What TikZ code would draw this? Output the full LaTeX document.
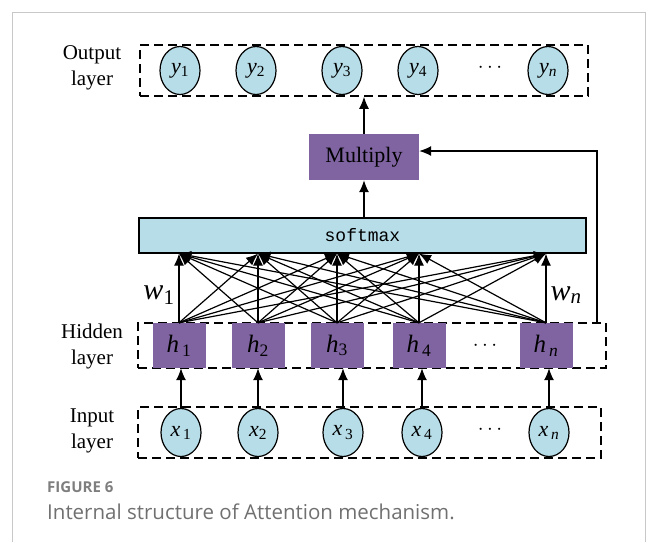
\documentclass[tikz,border=0pt]{standalone}
\usepackage{fontspec}
\setmainfont{Liberation Serif}
\setmonofont{Liberation Mono}
\newfontfamily\capfont{Open Sans}
\usetikzlibrary{arrows.meta,shapes.geometric}
\definecolor{cellblue}{HTML}{B7DDE8}
\definecolor{cellpurple}{HTML}{8064A2}
\definecolor{framegray}{HTML}{C8C8C8}
\definecolor{capgray}{HTML}{707070}
\newcommand{\unitvar}[2]{\textit{#1}\textsubscript{#2}}
\tikzset{
  unit/.style={ellipse, draw, line width=1.2pt, fill=cellblue, minimum width=40pt,
    minimum height=48pt, inner sep=0pt, font=\fontsize{22}{22}\selectfont},
  hid/.style={rectangle, fill=cellpurple, minimum width=53pt, minimum height=45pt,
    inner sep=0pt, font=\fontsize{25}{25}\selectfont},
  layerbox/.style={rectangle, draw, line width=1.6pt, dash pattern=on 9pt off 5pt, inner sep=0pt},
  lbl/.style={align=center, font=\fontsize{21}{26}\selectfont},
  conn/.style={line width=1.2pt}
}
\begin{document}
\begin{tikzpicture}[x=1pt, y=-1pt, >={Latex[length=12pt,width=10pt]}]
\useasboundingbox (0,0) rectangle (656,542);
% frame round the figure
\draw[framegray, line width=1pt] (12,542) -- (12,12) -- (645,12) -- (645,542);

% the three layers
\node[layerbox, minimum width=448pt, minimum height=51pt] (outbox) at (364,70.5) {};
\node[layerbox, minimum width=468pt, minimum height=45pt] (hidbox) at (372,345.5) {};
\node[layerbox, minimum width=463pt, minimum height=51pt] (inbox) at (369.5,432.5) {};
\node[lbl] (outlbl) at (92,68) {Output\\layer};
\node[lbl] (hidlbl) at (92,346) {Hidden\\layer};
\node[lbl] (inlbl) at (92,431) {Input\\layer};

\foreach \n/\x/\s in {1/180/1, 2/256/2, 3/342/3, 4/418/4, 5/548/\textit{n}}
  \node[unit] (y\n) at (\x,70.5) {\unitvar{y}{\s}};
\foreach \n/\x/\s in {1/179/\,1, 2/258/2, 3/337/3, 4/419/\,4, 5/546/\,\textit{n}}
  \node[hid] (h\n) at (\x,345.5) {\unitvar{h}{\s}};
\foreach \n/\x/\s in {1/181/\,1, 2/258/2, 3/343/\,3, 4/422/\,4, 5/549/\,\textit{n}}
  \node[unit] (x\n) at (\x,432.5) {\unitvar{x}{\s}};
\node[font=\fontsize{20}{20}\selectfont] (ydots) at (490,68) {$\cdots$};
\node[font=\fontsize{20}{20}\selectfont] (hdots) at (485,346) {$\cdots$};
\node[font=\fontsize{20}{20}\selectfont] (xdots) at (490,430) {$\cdots$};

\node[rectangle, draw, line width=1.2pt, fill=cellblue, minimum width=447pt, minimum height=35pt,
  font=\ttfamily\fontsize{18}{18}\selectfont] (softmax) at (362.5,235.5) {softmax};
\node[hid, minimum width=110pt, minimum height=46pt, font=\fontsize{22}{22}\selectfont] (mult) at (364,157) {Multiply};

% input -> hidden
\foreach \n in {1,...,5}
  \draw[conn,->] (x\n.north) -- (x\n.north |- h\n.south);
% every hidden unit feeds every weight
\foreach \i in {1,...,5}
  \foreach \j in {1,...,5}
    \draw[conn,->] (h\i.north) -- (softmax.south -| h\j.north);
\node[font=\fontsize{30}{30}\selectfont] (w1) at (159,295) {\unitvar{w}{1}};
\node[font=\fontsize{30}{30}\selectfont] (wn) at (566,295) {\unitvar{w}{\textit{n}}};

\draw[conn,->] (softmax.north -| mult) -- (mult.south);
\draw[conn,->] (mult.north) -- (mult |- outbox.south);
\coordinate (fb) at (597,323);
\draw[conn,->] (fb) |- ([yshift=6pt]mult.east);

% caption
\node[anchor=west, inner sep=0pt, font=\capfont\bfseries\fontsize{15}{15}\selectfont, text=capgray!90] (figno) at (47,487) {FIGURE 6};
\node[anchor=west, inner sep=0pt, font=\capfont\fontsize{20.5}{20.5}\selectfont, text=capgray] (figcap) at (47,512) {Internal structure of Attention mechanism.};
\end{tikzpicture}
\end{document}
